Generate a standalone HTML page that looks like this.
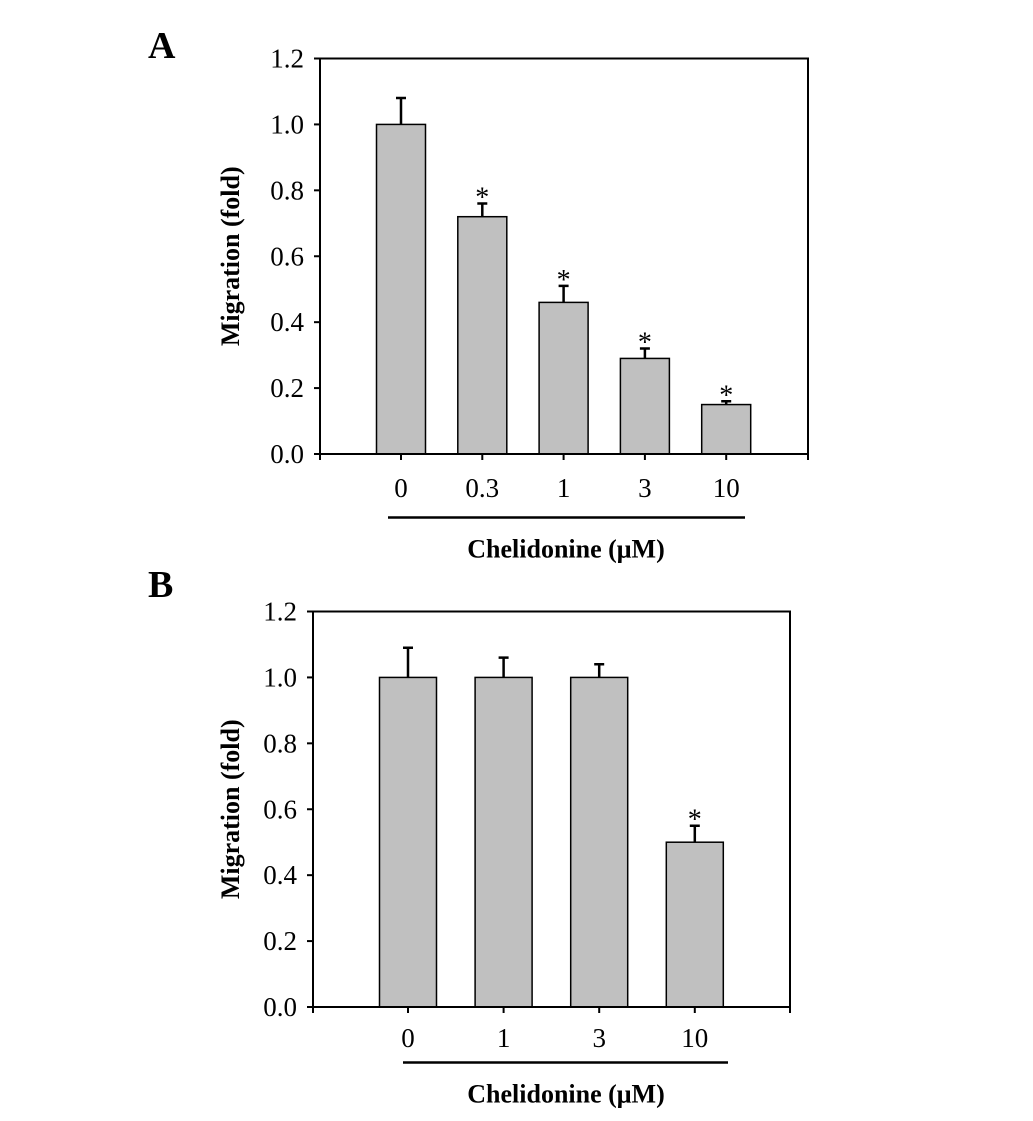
<!DOCTYPE html>
<html><head><meta charset="utf-8"><style>
html,body{margin:0;padding:0;background:#fff;}
svg text{font-family:"Liberation Serif",serif;fill:#000;}
</style></head><body>
<svg id="fig" width="1033" height="1116" xmlns="http://www.w3.org/2000/svg"></svg>
<script>
const catsA = ["0","0.3","1","3","10"];
const valsA = [1.0, 0.72, 0.46, 0.29, 0.15];
const errA = [1.08, 0.76, 0.51, 0.32, 0.16];
const starA = [false, true, true, true, true];
const catsB = ["0","1","3","10"];
const valsB = [1.0, 1.0, 1.0, 0.5];
const errB = [1.09, 1.06, 1.04, 0.55];
const starB = [false, false, false, true];
const yTicks = [0, 0.2, 0.4, 0.6, 0.8, 1.0, 1.2];
const yTickLabels = ["0.0","0.2","0.4","0.6","0.8","1.0","1.2"];

const svg = document.getElementById('fig');
const NS = "http://www.w3.org/2000/svg";
function el(tag, attrs, parent){const e=document.createElementNS(NS,tag);for(const k in attrs)e.setAttribute(k,attrs[k]);(parent||svg).appendChild(e);return e;}

function panel(p){
  const g = el('g',{});
  
  
  const y = v => p.bottom - (p.bottom - p.top) * v / 1.2;
  const x = i => p.c0 + p.step * i;
  const lbl = el('text',{x:148,y:p.letterY,'font-size':38,'font-weight':'bold'},g);
  lbl.textContent = p.id;
  
  
  p.vals.forEach((v,i)=>{
    const b = el('rect',{x:x(i)-p.bw/2,y:y(v),width:p.bw,height:p.bottom-y(v),fill:'#c0c0c0',stroke:'#000','stroke-width':1.5},g);
    
    
    const e = el('path',{d:`M${x(i)},${y(v)}V${y(p.err[i])}M${x(i)-5},${y(p.err[i])}H${x(i)+5}`,stroke:'#000','stroke-width':2.5,fill:'none'},g);
    
    
    if(p.star[i]){
      const s = el('text',{x:x(i),y:y(p.err[i])+3,'font-size':28,'text-anchor':'middle'},g);
      s.textContent='*';
      
      
    }
    const t = el('text',{x:x(i),y:p.xLabY,'font-size':27,'text-anchor':'middle'},g);
    t.textContent = p.cats[i];
    
    
    el('line',{x1:x(i),x2:x(i),y1:p.bottom,y2:p.bottom+6,stroke:'#000','stroke-width':2},g);
  });
  const f = el('rect',{x:p.left,y:p.top,width:p.right-p.left,height:p.bottom-p.top,fill:'none',stroke:'#000','stroke-width':2},g);
  
  
  el('line',{x1:p.left,x2:p.left,y1:p.bottom,y2:p.bottom+6,stroke:'#000','stroke-width':2},g);
  el('line',{x1:p.right,x2:p.right,y1:p.bottom,y2:p.bottom+6,stroke:'#000','stroke-width':2},g);
  yTicks.forEach((v,i)=>{
    el('line',{x1:p.left-6,x2:p.left,y1:y(v),y2:y(v),stroke:'#000','stroke-width':2},g);
    const t = el('text',{x:p.left-16,y:y(v)+9,'font-size':27,'text-anchor':'end'},g);
    t.textContent = yTickLabels[i];
    
    
  });
  const yt = el('text',{x:0,y:0,'font-size':26,'font-weight':'bold','text-anchor':'middle',transform:`translate(239,${(p.top+p.bottom)/2}) rotate(-90)`},g);
  yt.textContent = 'Migration (fold)';
  
  
  const ul = el('line',{x1:p.ulX1,x2:p.ulX2,y1:p.ulY,y2:p.ulY,stroke:'#000','stroke-width':2.5},g);
  
  
  const xt = el('text',{x:566,y:p.ulY+40,'font-size':26,'font-weight':'bold','text-anchor':'middle'},g);
  xt.textContent = 'Chelidonine (\u03bcM)';
  
  
}
panel({id:'A',cats:catsA,vals:valsA,err:errA,star:starA,left:320,right:808,top:58.5,bottom:454,c0:401,step:81.3,bw:49,xLabY:497,ulX1:388,ulX2:745,ulY:517.5,letterY:58});
panel({id:'B',cats:catsB,vals:valsB,err:errB,star:starB,left:313,right:790,top:611.5,bottom:1007,c0:408,step:95.6,bw:57,xLabY:1047,ulX1:403,ulX2:728,ulY:1062.5,letterY:597});
</script>
</body></html>
